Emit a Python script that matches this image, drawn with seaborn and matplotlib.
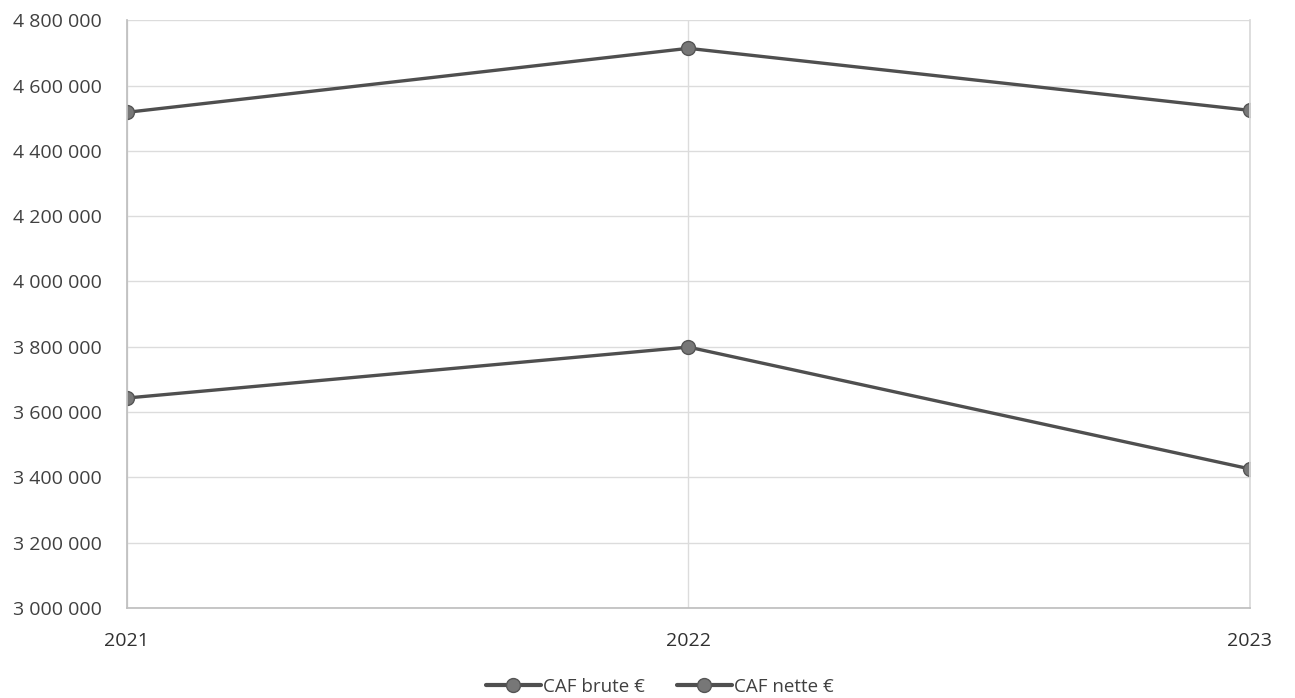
import matplotlib
matplotlib.use("Agg")
import matplotlib.pyplot as plt
import matplotlib.ticker as mticker
import seaborn as sns
import pandas as pd

years = [2021, 2022, 2023]
caf_brute = [4518000, 4714000, 4524000]
caf_nette = [3643000, 3799000, 3426000]
series_names = ["CAF brute €", "CAF nette €"]

df = pd.DataFrame({
    "Année": years * 2,
    "Valeur": caf_brute + caf_nette,
    "Série": [series_names[0]] * 3 + [series_names[1]] * 3,
})

sns.set_theme(style="white")
plt.rcParams["font.family"] = ["Open Sans", "DejaVu Sans"]

fig = plt.figure(figsize=(12.95, 6.98), dpi=100)
ax = fig.add_axes([0.098, 0.129, 0.867, 0.842])

sns.lineplot(
    data=df, x="Année", y="Valeur", hue="Série",
    palette=["#4f4f4f", "#4f4f4f"], marker="o", markersize=10,
    markerfacecolor="#777777", markeredgecolor="#555555", markeredgewidth=1,
    linewidth=2.4, ax=ax, legend=True,
)

ax.set_xlim(2021, 2023)
ax.set_ylim(3000000, 4800000)
ax.set_xticks(years)
ax.set_xticklabels([str(y) for y in years])
ax.yaxis.set_major_locator(mticker.MultipleLocator(200000))
ax.yaxis.set_major_formatter(mticker.FuncFormatter(lambda v, p: f"{int(v):,}".replace(",", " ")))
ax.set_xlabel("")
ax.set_ylabel("")

ax.grid(axis="y", color="#dcdcdc", linewidth=1)
ax.grid(axis="x", color="#dcdcdc", linewidth=1)
ax.spines["top"].set_visible(False)
ax.spines["left"].set_color("#bfbfbf")
ax.spines["bottom"].set_color("#bfbfbf")
ax.spines["right"].set_color("#d9d9d9")
ax.tick_params(axis="y", labelsize=14, colors="#404040", length=0, pad=18)
ax.tick_params(axis="x", labelsize=14, colors="#303030", length=0, pad=17)

leg = ax.legend(
    loc="upper center", bbox_to_anchor=(0.475, -0.09), ncol=2, frameon=False,
    fontsize=13.5, handlelength=2.9, columnspacing=1.7, handletextpad=0.15,
)
for t in leg.get_texts():
    t.set_color("#404040")
for h in leg.get_lines():
    h.set_linewidth(3)

fig.savefig("out.png", dpi=100, facecolor="white")
